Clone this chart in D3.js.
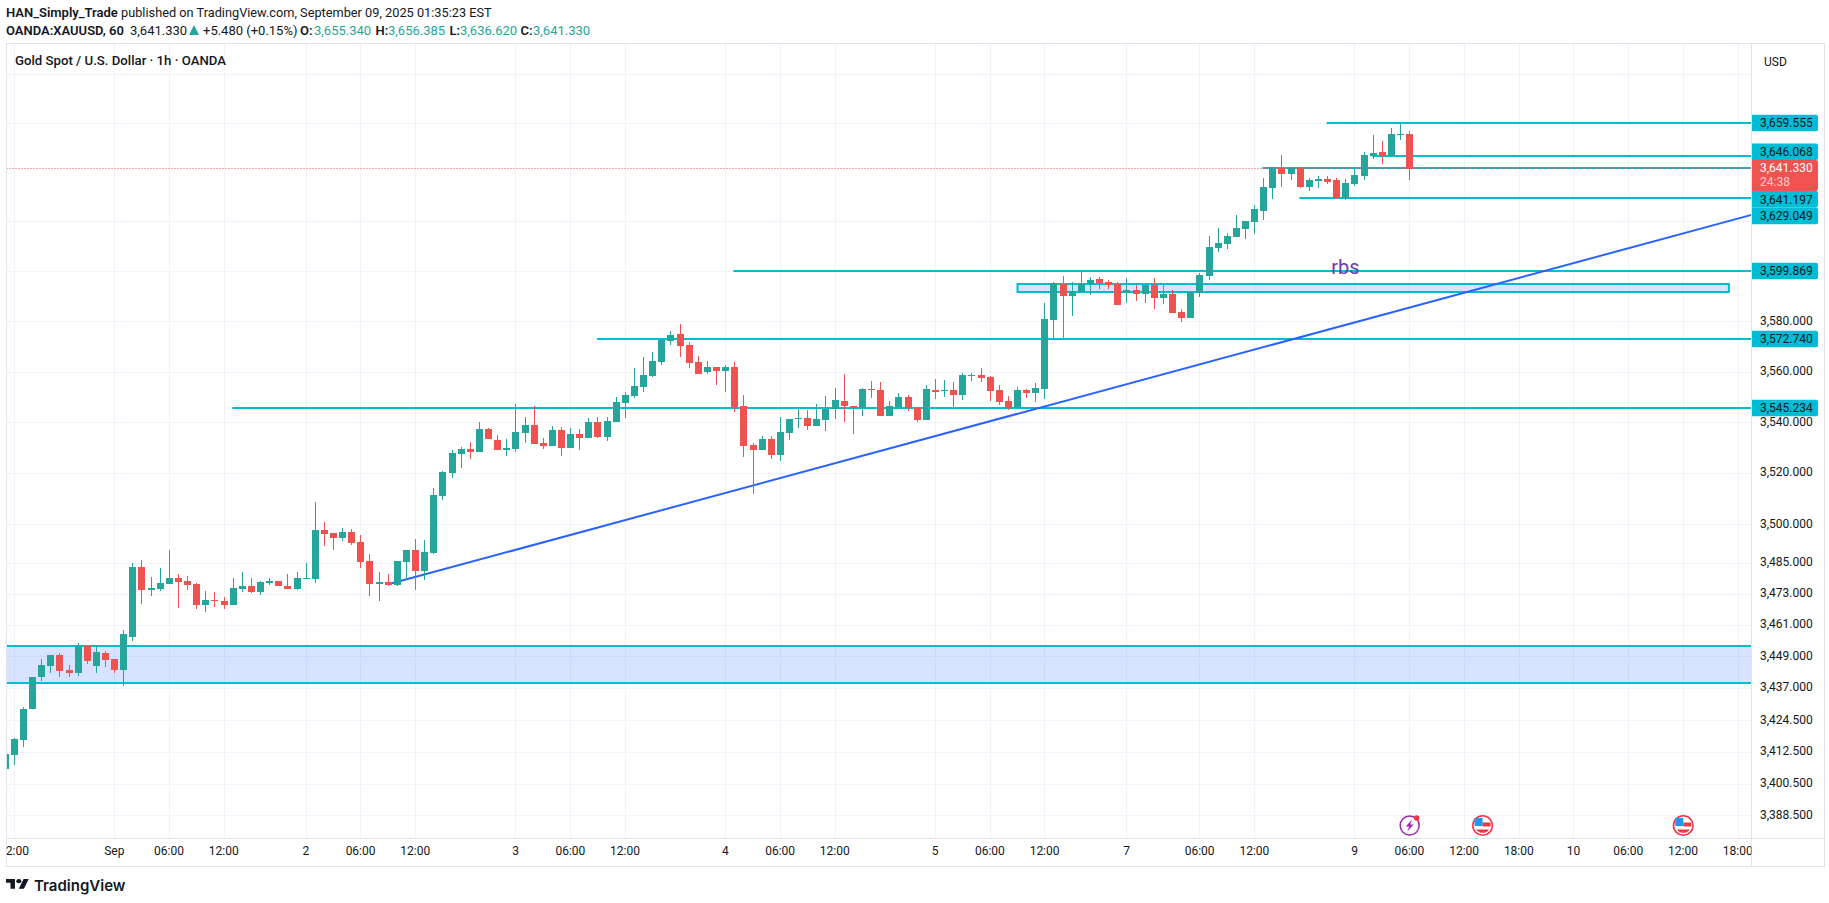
<!DOCTYPE html>
<html>
<head>
<meta charset="utf-8">
<script src="https://d3js.org/d3.v7.min.js"></script>
<style>
  html, body { margin: 0; padding: 0; background: #fff; overflow: hidden; }
  text { font-family: Roboto, sans-serif; fill: #131722; }
</style>
</head>
<body>
<div id="my_dataviz"></div>

<script>
// hourly candles. index 0 is the half hidden bar on the left edge
var opens = [3406.0,3411.2,3416.9,3428.9,3440.9,3445.4,3449.5,3443.9,3442.7,3452.9,3445.4,3450.2,3448.0,3443.9,
  3456.5,3483.4,3474.4,3474.8,3476.7,3479.1,3477.9,3476.7,3468.9,3470.5,3470.1,3468.9,3474.8,3476.0,3473.6,3477.1,
  3477.9,3476.0,3474.8,3478.7,3478.7,3497.8,3496.6,3494.7,3497.0,3493.1,3485.7,3476.7,3477.5,3476.4,3485.3,3490.0,
  3481.8,3488.8,3511.1,3520.0,3527.4,3529.4,3528.2,3537.2,3532.9,3529.0,3529.4,3535.6,3538.8,3531.7,3530.6,3536.8,
  3529.8,3535.2,3533.7,3539.9,3534.1,3540.1,3547.6,3550.4,3553.9,3558.3,3563.8,3572.2,3574.9,3570.6,3563.8,3559.9,
  3561.9,3560.3,3561.9,3546.4,3531.0,3529.0,3533.3,3527.0,3535.6,3541.1,3541.5,3538.4,3540.9,3545.2,3548.4,3546.4,
  3545.6,3553.2,3552.8,3542.5,3546.0,3550.0,3545.6,3540.9,3552.8,3552.4,3552.8,3550.8,3558.3,3558.7,3557.9,3552.8,
  3548.4,3545.6,3552.8,3551.6,3553.2,3580.5,3594.7,3590.0,3591.6,3594.7,3596.7,3595.5,3594.7,3591.2,3592.4,3590.8,
  3594.3,3589.2,3590.8,3583.6,3581.3,3591.2,3598.0,3609.4,3611.0,3613.8,3617.1,3619.9,3624.3,3633.3,3641.4,3639.3,
  3641.4,3633.7,3636.1,3636.9,3636.5,3629.6,3634.9,3638.5,3646.6,3648.2,3646.6,3655.1,3655.34];
var highs = [3411.6,3417.6,3429.6,3441.2,3448.0,3449.5,3450.2,3445.7,3454.0,3452.9,3453.2,3451.0,3448.0,3459.2,
  3484.9,3486.1,3479.5,3483.0,3490.0,3480.6,3479.9,3477.1,3474.0,3473.6,3471.7,3479.1,3481.4,3479.1,3477.9,3479.1,
  3477.9,3480.6,3481.4,3484.9,3508.7,3500.9,3496.6,3498.6,3498.2,3495.9,3488.4,3481.4,3480.6,3485.7,3490.0,3494.3,
  3493.9,3514.2,3520.8,3529.0,3530.2,3532.1,3539.9,3537.6,3534.9,3533.3,3547.3,3541.9,3546.2,3533.7,3538.4,3538.0,
  3537.6,3537.2,3541.5,3541.9,3541.9,3550.0,3552.0,3561.5,3565.8,3567.8,3572.6,3576.1,3578.9,3571.8,3566.2,3564.2,
  3561.9,3562.7,3563.8,3550.8,3531.7,3534.5,3534.5,3541.9,3541.1,3545.2,3544.8,3547.2,3550.4,3553.5,3559.1,3546.4,
  3553.5,3556.3,3555.9,3548.4,3551.6,3550.8,3545.6,3554.7,3557.1,3556.7,3555.9,3559.5,3559.5,3561.5,3558.3,3554.7,
  3550.4,3553.9,3553.2,3555.5,3587.2,3595.5,3597.9,3595.5,3599.5,3597.5,3597.5,3596.3,3595.5,3597.1,3594.3,3594.7,
  3597.1,3594.7,3592.4,3584.8,3591.6,3599.1,3614.2,3617.5,3615.4,3622.7,3620.3,3626.4,3637.3,3641.8,3647.0,3641.4,
  3641.4,3637.3,3638.5,3638.5,3637.3,3636.9,3641.4,3648.2,3655.1,3652.7,3657.6,3660.0,3656.385];
var lows = [3406.0,3407.5,3414.2,3428.9,3439.4,3442.4,3441.2,3441.2,3441.6,3446.1,3442.7,3445.0,3442.7,3437.5,
  3454.9,3469.3,3472.1,3474.0,3476.7,3467.4,3474.4,3467.0,3466.2,3467.8,3467.0,3468.9,3473.6,3473.2,3472.5,3476.4,
  3476.0,3474.8,3474.4,3478.7,3477.1,3491.6,3490.0,3493.5,3491.9,3483.0,3472.1,3470.1,3476.0,3476.0,3478.3,3474.4,
  3478.3,3488.4,3509.5,3518.1,3522.0,3525.5,3528.2,3533.3,3529.0,3526.7,3528.2,3531.7,3531.3,3529.4,3530.6,3526.7,
  3529.8,3529.0,3533.7,3533.7,3532.5,3540.1,3541.7,3549.6,3552.0,3557.9,3562.7,3570.6,3565.8,3561.5,3559.1,3559.1,
  3554.7,3552.0,3544.0,3526.3,3511.8,3529.0,3525.5,3524.7,3532.9,3537.6,3536.8,3538.4,3536.4,3541.1,3540.1,3535.2,
  3542.5,3549.6,3542.5,3542.5,3545.2,3544.4,3540.1,3540.9,3549.2,3550.0,3546.0,3548.8,3556.3,3555.9,3548.4,3546.8,
  3544.8,3545.6,3549.6,3548.0,3549.2,3573.4,3573.4,3582.1,3591.6,3590.4,3592.8,3592.8,3586.4,3587.2,3588.0,3587.2,
  3584.8,3586.8,3583.3,3579.7,3581.3,3589.6,3596.4,3607.7,3609.0,3613.8,3613.0,3615.0,3620.7,3629.2,3633.7,3636.5,
  3633.3,3632.4,3633.3,3634.9,3629.2,3628.8,3634.1,3636.5,3645.4,3643.0,3646.6,3653.1,3636.62];
var closes = [3411.6,3417.2,3428.9,3441.2,3445.7,3449.5,3443.5,3442.7,3452.9,3447.2,3450.6,3447.6,3443.9,3457.4,
  3483.4,3474.4,3475.2,3477.1,3479.1,3477.5,3476.4,3468.9,3470.5,3470.1,3468.9,3475.2,3476.0,3473.6,3477.5,3477.9,
  3476.0,3474.8,3479.1,3479.1,3497.8,3496.2,3494.7,3497.0,3492.7,3485.3,3476.7,3477.5,3476.4,3485.7,3490.0,3481.8,
  3489.2,3511.5,3520.4,3527.8,3529.4,3528.2,3537.2,3533.3,3529.0,3529.8,3536.0,3538.8,3531.3,3530.6,3536.8,3529.8,
  3535.2,3533.7,3539.9,3534.1,3540.3,3548.0,3550.8,3554.3,3558.7,3564.2,3572.6,3574.5,3570.2,3563.4,3559.1,3561.9,
  3560.3,3561.9,3546.0,3530.6,3529.0,3533.3,3527.0,3536.0,3541.1,3541.5,3538.4,3541.1,3545.2,3548.8,3546.4,3545.6,
  3553.2,3552.8,3542.5,3546.4,3550.0,3545.6,3540.9,3553.2,3552.0,3552.8,3550.8,3558.7,3558.7,3557.5,3552.4,3548.0,
  3545.6,3552.8,3551.6,3553.5,3580.9,3595.1,3590.0,3592.0,3595.1,3596.3,3595.1,3594.3,3586.4,3592.4,3590.8,3594.3,
  3589.2,3590.8,3583.3,3581.3,3591.6,3598.3,3609.8,3611.4,3614.2,3617.5,3620.3,3624.8,3633.7,3641.8,3639.3,3641.4,
  3633.7,3636.5,3636.9,3635.7,3629.6,3635.3,3638.9,3647.0,3647.8,3646.6,3655.5,3655.5,3641.33];

// time axis ticks, bar index + label
var timeTickBars = [1,12,18,24,33,39,45,56,62,68,79,85,91,102,108,114,123,131,137,148,154,160,166,172,178,184,190];
var timeTickLabels = ["12:00","Sep","06:00","12:00","2","06:00","12:00","3","06:00","12:00","4","06:00","12:00","5",
  "06:00","12:00","7","06:00","12:00","9","06:00","12:00","18:00","10","06:00","12:00","18:00"];

// price axis
var gridPrices = [3388.5,3400.5,3412.5,3424.5,3437,3449,3461,3473,3485,3500,3520,3540,3560,3580,3600,3620,3660,3680];
var labelPrices = [3388.5,3400.5,3412.5,3424.5,3437,3449,3461,3473,3485,3500,3520,3540,3560,3580];

// drawings
var levelPrices = [3545.234,3572.74,3599.869,3629.049,3641.197,3646.068,3659.555];
var levelStartBars = [24.9,64.9,79.85,141.9,137.85,149.9,144.9];
var trendBars = [42.4,191.48];
var trendPrices = [3477.1,3622.6];
var zoneBars = [[-5,195],[111,189]];
var zonePrices = [[3438.7,3452.6],[3591.6,3594.8]];
var lastPrice = 3641.33;
var countdown = "24:38";
var flagBars = [162,184];
var boltBar = 154;
var noteBar = 145.4, notePrice = 3598.7;

var green = "#26a69a", red = "#ef5350", teal = "#00bcd4", line = "#e0e3eb", gridColor = "#f0f3fa";

var width = 1829, height = 903;
var plot = {left: 6.5, right: 1751.5, top: 43.5, bottom: 838.5, outer: 1824, foot: 866.5};

var svg = d3.select("#my_dataviz").append("svg")
    .attr("width", width)
    .attr("height", height)
    .style("display", "block");

svg.append("clipPath").attr("id", "plotClip").append("rect")
    .attr("x", plot.left).attr("y", plot.top)
    .attr("width", plot.right - plot.left).attr("height", plot.bottom - plot.top);
svg.append("clipPath").attr("id", "timeClip").append("rect")
    .attr("x", plot.left).attr("y", plot.bottom)
    .attr("width", plot.right - plot.left).attr("height", plot.foot - plot.bottom);

// bar index to pixels, 9.12px per bar
var x = d3.scaleLinear().domain([1, 190]).range([14.3, 1738]);
// log price scale
var y = d3.scaleLog().domain([3388.5, 3680]).range([815.3, 73.6]);

var chart = svg.append("g").attr("clip-path", "url(#plotClip)");

// grid
chart.append("g").selectAll("line").data(timeTickBars).enter().append("line")
    .attr("x1", function (d) { return Math.floor(x(d)) + 0.5; })
    .attr("x2", function (d) { return Math.floor(x(d)) + 0.5; })
    .attr("y1", plot.top).attr("y2", plot.bottom)
    .style("stroke", gridColor);
chart.append("g").selectAll("line").data(gridPrices).enter().append("line")
    .attr("x1", plot.left).attr("x2", plot.right)
    .attr("y1", function (d) { return Math.round(y(d)) + 0.5; })
    .attr("y2", function (d) { return Math.round(y(d)) + 0.5; })
    .style("stroke", gridColor);

// zones. the big one has only top and bottom edges inside the clip
zoneBars.forEach(function (b, i) {
    chart.append("rect")
        .attr("x", x(b[0]))
        .attr("width", x(b[1]) - x(b[0]))
        .attr("y", Math.floor(y(zonePrices[i][1])))
        .attr("height", Math.floor(y(zonePrices[i][0])) - Math.floor(y(zonePrices[i][1])))
        .style("fill", "rgba(41,98,255,0.18)")
        .style("stroke", teal)
        .style("stroke-width", 2);
});

// horizontal levels
chart.append("g").selectAll("line").data(levelPrices).enter().append("line")
    .attr("x1", function (d, i) { return x(levelStartBars[i]); })
    .attr("x2", plot.right)
    .attr("y1", function (d) { return Math.floor(y(d)); })
    .attr("y2", function (d) { return Math.floor(y(d)); })
    .style("stroke", teal)
    .style("stroke-width", 2);

// trend line
chart.append("line")
    .attr("x1", x(trendBars[0])).attr("y1", y(trendPrices[0]))
    .attr("x2", x(trendBars[1])).attr("y2", y(trendPrices[1]))
    .style("stroke", "#2962ff")
    .style("stroke-width", 2);

// last price
chart.append("line")
    .attr("x1", plot.left).attr("x2", plot.right)
    .attr("y1", Math.floor(y(lastPrice)) + 0.5).attr("y2", Math.floor(y(lastPrice)) + 0.5)
    .style("stroke", red)
    .style("stroke-dasharray", "1,2");

// candles
var candles = chart.append("g").selectAll("g").data(closes).enter().append("g")
    .style("shape-rendering", "crispEdges");
candles.append("rect")
    .attr("x", function (d, i) { return Math.floor(x(i)); })
    .attr("width", 1)
    .attr("y", function (d, i) { return Math.round(y(highs[i])); })
    .attr("height", function (d, i) { return Math.round(y(lows[i])) - Math.round(y(highs[i])); })
    .style("fill", function (d, i) { return d >= opens[i] ? green : red; });
candles.append("rect")
    .attr("x", function (d, i) { return Math.floor(x(i)) - 3; })
    .attr("width", 7)
    .attr("y", function (d, i) { return Math.round(y(Math.max(d, opens[i]))); })
    .attr("height", function (d, i) {
        return Math.max(1, Math.round(y(Math.min(d, opens[i]))) - Math.round(y(Math.max(d, opens[i]))));
    })
    .style("fill", function (d, i) { return d >= opens[i] ? green : red; });

// rbs note
chart.append("text")
    .attr("x", x(noteBar)).attr("y", y(notePrice))
    .style("font-size", "20px")
    .style("fill", "#673ab7")
    .text("rbs");

// event icons on the time axis
var iconY = 825.5;
var bolt = chart.append("g").attr("transform", "translate(" + x(boltBar) + "," + iconY + ")");
bolt.append("circle").attr("r", 9.5).style("fill", "#fff").style("stroke", "#9c27b0").style("stroke-width", 1.5);
bolt.append("path").attr("d", "M2.5,-6 L-4,1 L-0.5,1 L-2.5,6 L4,-1 L0.5,-1 Z").style("fill", "#9c27b0");
bolt.append("circle").attr("cx", 7).attr("cy", -7.5).attr("r", 2.8).style("fill", "#f23645");

var flags = chart.append("g").selectAll("g").data(flagBars).enter().append("g")
    .attr("transform", function (d) { return "translate(" + x(d) + "," + iconY + ")"; });
flags.append("circle").attr("r", 9.8).style("fill", "#fff").style("stroke", "#f23645").style("stroke-width", 1.6);
flags.append("rect").attr("x", -8).attr("y", -7.5).attr("width", 8).attr("height", 8).style("fill", "#2196f3");
flags.append("rect").attr("x", 0).attr("y", -3).attr("width", 8).attr("height", 4).style("fill", "#f23645");
flags.append("path").attr("d", "M-6.5,4 H6.5 A8,8 0 0 1 -6.5,4 Z").style("fill", "#f23645");

// frame
var frame = svg.append("g").style("shape-rendering", "crispEdges").style("stroke", line);
frame.append("rect").attr("x", plot.left).attr("y", plot.top)
    .attr("width", plot.outer - plot.left).attr("height", plot.foot - plot.top)
    .style("fill", "none");
frame.append("line").attr("x1", plot.right).attr("x2", plot.right).attr("y1", plot.top).attr("y2", plot.foot);
frame.append("line").attr("x1", plot.left).attr("x2", plot.outer).attr("y1", plot.bottom).attr("y2", plot.bottom);

// axes
var timeAxis = svg.append("g")
    .attr("clip-path", "url(#timeClip)")
    .append("g")
    .attr("transform", "translate(-0.8," + plot.bottom + ")")
    .call(d3.axisBottom(x).tickValues(timeTickBars)
        .tickFormat(function (d, i) { return timeTickLabels[i]; })
        .tickSize(0).tickPadding(8));
timeAxis.select(".domain").remove();

var priceAxis = svg.append("g")
    .attr("transform", "translate(" + plot.right + ",-1)")
    .call(d3.axisRight(y).tickValues(labelPrices)
        .tickFormat(d3.format(",.3f"))
        .tickSize(0).tickPadding(8.5));
priceAxis.select(".domain").remove();
svg.selectAll(".tick text")
    .style("font-family", "Roboto, sans-serif")
    .style("font-size", "12px")
    .style("fill", "#131722");

// price tags, pushed away from the last price tag like the real axis does
var tagH = 16.6, lastTop = 160, lastH = 31;
var tagX = plot.right + 0.5, tagW = 66;
function tagCenters() {
    var out = {};
    var edge = lastTop;
    levelPrices.filter(function (d) { return d > lastPrice; }).sort(d3.ascending).forEach(function (d) {
        var c = Math.min(Math.floor(y(d)), edge - tagH / 2);
        out[d] = c;
        edge = c - tagH / 2;
    });
    edge = lastTop + lastH;
    levelPrices.filter(function (d) { return d <= lastPrice; }).sort(d3.descending).forEach(function (d) {
        var c = Math.max(Math.floor(y(d)), edge + tagH / 2);
        out[d] = c;
        edge = c + tagH / 2;
    });
    return out;
}
var centers = tagCenters();
var tags = svg.append("g").selectAll("g").data(levelPrices).enter().append("g")
    .attr("transform", function (d) { return "translate(" + tagX + "," + centers[d] + ")"; });
tags.append("path")
    .attr("d", "M0," + (-tagH / 2) + " H" + (tagW - 2) + " q2,0 2,2 V" + (tagH / 2 - 2) + " q0,2 -2,2 H0 Z")
    .style("fill", teal);
tags.append("text")
    .attr("x", 8).attr("dy", "0.35em")
    .style("font-size", "12px")
    .text(d3.format(",.3f"));

var lastTag = svg.append("g").attr("transform", "translate(" + tagX + "," + lastTop + ")");
lastTag.append("path")
    .attr("d", "M0,0 H" + (tagW - 2) + " q2,0 2,2 V" + (lastH - 2) + " q0,2 -2,2 H0 Z")
    .style("fill", red);
lastTag.append("text").attr("x", 8).attr("y", 12).style("font-size", "12px").style("fill", "#fff")
    .text(d3.format(",.3f")(lastPrice));
lastTag.append("text").attr("x", 8).attr("y", 26).style("font-size", "12px").style("fill", "rgba(255,255,255,0.7)")
    .text(countdown);

// currency label
svg.append("text").attr("x", 1764).attr("y", 65.5).style("font-size", "12px").text("USD");

// header
function put(xp, yp, str, weight, color, size) {
    return svg.append("text").attr("x", xp).attr("y", yp)
        .style("font-size", (size || 13) + "px")
        .style("font-weight", weight || 400)
        .style("fill", color || "#131722")
        .text(str);
}
put(6, 17, "HAN_Simply_Trade", 600);
put(121, 17, "published on TradingView.com, September 09, 2025 01:35:23 EST", 400, null, 12.75);
put(6, 34.5, "OANDA:XAUUSD, 60", 600);
put(130, 34.5, "3,641.330");
svg.append("path").attr("d", "M189,35 L194,25 L199,35 Z").style("fill", green);
put(203, 34.5, "+5.480 (+0.15%)");
var ohlcLabels = ["O:", "H:", "L:", "C:"];
var ohlcValues = ["3,655.340", "3,656.385", "3,636.620", "3,641.330"];
var ohlcLabelX = [300, 375.5, 449.5, 520.5];
var ohlcValueX = [314, 388, 460, 533];
ohlcLabels.forEach(function (d, i) {
    put(ohlcLabelX[i], 34.5, d, 600);
    put(ohlcValueX[i], 34.5, ohlcValues[i], 400, green);
});

svg.append("text").attr("x", 15).attr("y", 65)
    .style("font-size", "13.2px").style("font-weight", 500)
    .text("Gold Spot / U.S. Dollar \u00b7 1h \u00b7 OANDA");

// logo
var logo = svg.append("g").attr("transform", "translate(6,877) scale(0.64,0.53)");
logo.append("path").attr("d", "M14 22H7V11H0V4h14v18zM28 22h-8l7.5-18h8L28 22z").style("fill", "#131722");
logo.append("circle").attr("cx", 20).attr("cy", 8).attr("r", 4).style("fill", "#131722");
svg.append("text").attr("x", 34).attr("y", 891)
    .style("font-family", "Inter, sans-serif")
    .style("font-size", "15px").style("font-weight", 600)
    .text("TradingView");
</script>
</body>
</html>
